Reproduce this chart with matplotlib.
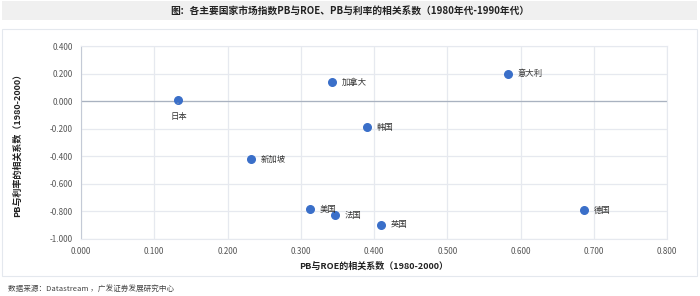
import matplotlib
matplotlib.use("Agg")
import matplotlib.pyplot as plt
import matplotlib.patches as patches

plt.rcParams['font.family'] = ['Noto Sans CJK SC', 'DejaVu Sans']

# data
countries = ['日本', '加拿大', '新加坡', '美国', '法国', '韩国', '意大利', '德国', '英国']
pb_roe = [0.132, 0.343, 0.232, 0.312, 0.347, 0.390, 0.583, 0.687, 0.409]
pb_rate = [0.008, 0.139, -0.419, -0.784, -0.826, -0.190, 0.197, -0.792, -0.898]

xticks = [0.0, 0.1, 0.2, 0.3, 0.4, 0.5, 0.6, 0.7, 0.8]
yticks = [0.4, 0.2, 0.0, -0.2, -0.4, -0.6, -0.8, -1.0]

W, H = 700, 296
fig = plt.figure(figsize=(W/100, H/100), dpi=100)

# title bar and chart box
fig.patches.append(patches.Rectangle((2/W, 1 - 20/H), 695/W, 19/H,
                                     transform=fig.transFigure, facecolor='#f0f0f0',
                                     edgecolor='none', zorder=-2))
fig.patches.append(patches.Rectangle((2/W, 1 - 276/H), 695/W, 247/H,
                                     transform=fig.transFigure, facecolor='white',
                                     edgecolor='#e4e8ee', linewidth=0.8, zorder=-2))
fig.text(0.5, 1 - 10.5/H, '图：各主要国家市场指数PB与ROE、PB与利率的相关系数（1980年代-1990年代）',
         ha='center', va='center', fontsize=7, fontweight='bold', color='#222222')
fig.text(8/W, 1 - 290/H, '数据来源：Datastream ，广发证券发展研究中心',
         ha='left', va='center', fontsize=5.5, color='#444444')

ax = fig.add_axes([81/W, 1 - 239/H, (667-81)/W, (239-46)/H])
ax.set_xlim(0, 0.8)
ax.set_ylim(-1.0, 0.4)
ax.set_xticks(xticks)
ax.set_yticks(yticks)
ax.set_xticklabels(['%.3f' % v for v in xticks])
ax.set_yticklabels(['%.3f' % v for v in yticks])
ax.tick_params(length=0, labelsize=5.8, colors='#555555', pad=6)
ax.grid(True, color='#e6e9ef', linewidth=0.9)
ax.set_axisbelow(True)
for s in ['top', 'right', 'bottom']:
    ax.spines[s].set_color('#e6e9ef')
ax.spines['left'].set_color('#c4cad6')
ax.axhline(0, color='#a9b2c0', linewidth=0.9, zorder=1)

ax.scatter(pb_roe, pb_rate, s=30, color='#3a6fc9', zorder=3)
for name, x, y in zip(countries, pb_roe, pb_rate):
    if name == '日本':
        ax.annotate(name, (x, y), xytext=(x + 0.002, y - 0.12), ha='center', va='center',
                    fontsize=6, color='#333333',
                    arrowprops=dict(arrowstyle='-', color='#9aa5b5', lw=0.6, shrinkA=4, shrinkB=2))
    else:
        ax.annotate(name, (x, y), xytext=(7, 0), textcoords='offset points',
                    ha='left', va='center', fontsize=6, color='#333333')

ax.set_xlabel('PB与ROE的相关系数（1980-2000）', fontsize=6.5, fontweight='bold',
              color='#222222', labelpad=4)
ax.set_ylabel('PB与利率的相关系数（1980-2000）', fontsize=6.5, fontweight='bold',
              color='#222222', labelpad=20)

fig.savefig('out.png', dpi=100)
